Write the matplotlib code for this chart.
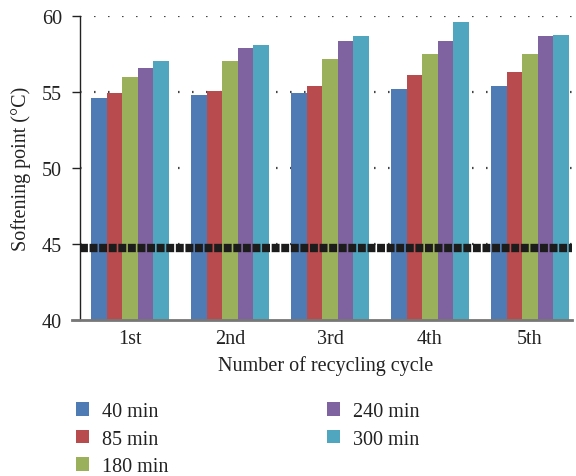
import matplotlib
matplotlib.use("Agg")
import matplotlib.pyplot as plt
import numpy as np
from matplotlib.patches import Patch

plt.rcParams['font.family'] = ['Liberation Serif', 'DejaVu Serif']

cycles = ["1st", "2nd", "3rd", "4th", "5th"]
series_labels = ["40 min", "85 min", "180 min", "240 min", "300 min"]
values_40 = [54.6, 54.8, 54.95, 55.2, 55.4]
values_85 = [54.95, 55.07, 55.4, 56.1, 56.3]
values_180 = [56.0, 57.05, 57.2, 57.5, 57.5]
values_240 = [56.6, 57.9, 58.4, 58.4, 58.7]
values_300 = [57.05, 58.1, 58.7, 59.6, 58.8]
threshold = 44.7
y_ticks = [40, 45, 50, 55, 60]

series = [values_40, values_85, values_180, values_240, values_300]
colors = ["#4F7BB4", "#B84B4E", "#9BB05B", "#7F63A0", "#50A6BF"]
text_color = "#222222"
fs = 14.5

fig = plt.figure(figsize=(5.76, 4.77), dpi=100)
ax = fig.add_axes([0.1389, 0.3277, 0.854, 0.636])

x = np.arange(len(cycles))
bw = 0.155
for i, (vals, col, lab) in enumerate(zip(series, colors, series_labels)):
    ax.bar(x + (i - 2) * bw, vals, width=bw, color=col, label=lab, zorder=2)

# dotted horizontal gridlines
for yv in y_ticks[1:]:
    ax.axhline(yv, color="#444444", lw=1.6, linestyle=(0, (0.7, 5.6)), zorder=1)

# dashed reference level
ax.axhline(threshold, color="#1c1c1c", lw=6, linestyle=(0, (0.95, 0.2)), zorder=3)

ax.set_ylim(40, 60)
ax.set_xlim(-0.5, 4.42)
ax.set_yticks(y_ticks)
ax.set_xticks(x)
ax.set_xticklabels(cycles)

for s in ["top", "right"]:
    ax.spines[s].set_visible(False)
ax.spines["left"].set_color(text_color)
ax.spines["left"].set_linewidth(1.0)
ax.spines["bottom"].set_visible(False)
ax.plot([-0.017, 1.0], [0, 0], transform=ax.transAxes, color="#777777",
        lw=2.0, clip_on=False, zorder=4)

ax.tick_params(axis="y", length=6, width=1.0, color=text_color, pad=7,
               labelsize=fs, labelcolor=text_color)
ax.tick_params(axis="x", length=0, pad=7, labelsize=fs, labelcolor=text_color)

ax.set_ylabel("Softening point (°C)", fontsize=fs, color=text_color, labelpad=8)
ax.set_xlabel("Number of recycling cycle", fontsize=fs, color=text_color, labelpad=5)

handles = [Patch(facecolor=c, edgecolor="none") for c in colors]
fig.legend(handles, series_labels, ncol=2, loc="upper left",
           bbox_to_anchor=(0.115, 0.176), frameon=False, fontsize=fs,
           handlelength=0.65, handleheight=0.65, handletextpad=0.65,
           columnspacing=7.85, labelspacing=0.42, labelcolor=text_color,
           borderpad=0.0)

fig.savefig("out.png", dpi=100)
